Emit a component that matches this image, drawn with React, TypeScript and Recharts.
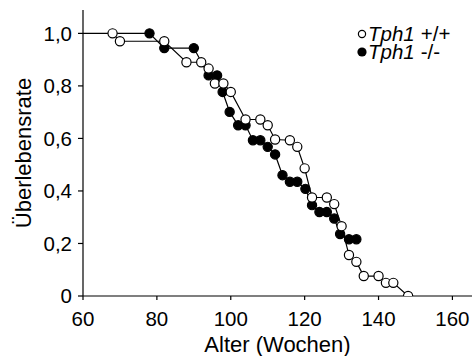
import React from "react";
import { LineChart, Line, XAxis, YAxis, Legend } from "recharts";

const wtAge = [68, 70, 82, 88, 92, 94, 95.7, 98, 100, 104, 108, 110, 112, 116, 118, 120, 122, 126, 128, 130, 132, 134, 136, 140, 142, 144, 148];
const wtSurv = [1.0, 0.97, 0.97, 0.89, 0.89, 0.866, 0.809, 0.809, 0.777, 0.672, 0.672, 0.65, 0.596, 0.593, 0.568, 0.486, 0.375, 0.375, 0.35, 0.266, 0.156, 0.13, 0.076, 0.076, 0.05, 0.05, 0];

const koAge = [60, 78, 82, 90, 94, 96.3, 97.8, 99.7, 102, 104, 106, 108, 110, 112, 114, 116, 118, 120.2, 122, 124, 126, 128, 129.6, 132, 134];
const koSurv = [1.0, 1.0, 0.944, 0.944, 0.84, 0.84, 0.777, 0.701, 0.65, 0.65, 0.593, 0.593, 0.568, 0.539, 0.46, 0.435, 0.435, 0.408, 0.346, 0.32, 0.32, 0.295, 0.236, 0.216, 0.216];

const xTicks = [60, 80, 100, 120, 140, 160];
const yTicks = [0, 0.2, 0.4, 0.6, 0.8, 1.0];
const yTickLabels = ["0", "0,2", "0,4", "0,6", "0,8", "1,0"];

const wtData = wtAge.map((a, i) => ({ age: a, s: wtSurv[i] }));
const koData = koAge.map((a, i) => ({ age: a, s: koSurv[i] }));

const FONT = "'Liberation Sans', Arial, Helvetica, sans-serif";

const OpenDot = (props: any) => {
  const { cx, cy, index } = props;
  return <circle key={"o" + index} cx={cx} cy={cy} r={4.6} fill="#fff" stroke="#000" strokeWidth={1.2} />;
};

const FilledDot = (props: any) => {
  const { cx, cy, index } = props;
  if (index === 0) return <g key={"f" + index} />;
  return <circle key={"f" + index} cx={cx} cy={cy} r={4.6} fill="#000" stroke="#000" strokeWidth={1.2} />;
};

const LegendContent = () => (
  <div style={{ fontFamily: FONT, fontSize: 20.5, color: "#000", lineHeight: "18px", whiteSpace: "nowrap" }}>
    <div style={{ display: "flex", alignItems: "center", height: 18 }}>
      <svg width={12} height={12}>
        <circle cx={6} cy={6} r={3.6} fill="#fff" stroke="#000" strokeWidth={1.2} />
      </svg>
      <i>Tph1</i>
      <span style={{ marginLeft: 6 }}>+/+</span>
    </div>
    <div style={{ display: "flex", alignItems: "center", height: 18 }}>
      <svg width={12} height={12}>
        <circle cx={6} cy={6} r={4.6} fill="#000" />
      </svg>
      <i>Tph1</i>
      <span style={{ marginLeft: 6 }}>-/-</span>
    </div>
  </div>
);

const YLabel = (props: any) => {
  const vb = props.viewBox || {};
  const cy = vb.y + vb.height / 2;
  return (
    <text x={31} y={cy} transform={`rotate(-90, 31, ${cy})`} textAnchor="middle" fontFamily={FONT} fontSize={22} fill="#000">
      Überlebensrate
    </text>
  );
};

export default function App() {
  return (
    <div style={{ position: "absolute", left: 0, top: 0, background: "#fff" }}>
      <LineChart width={472} height={356} margin={{ top: 10, right: 0, left: 0, bottom: 0 }}>
        <XAxis
          type="number"
          dataKey="age"
          domain={[60, 165.3]}
          ticks={xTicks}
          allowDataOverflow
          height={60}
          tickSize={4}
          tickMargin={11}
          stroke="#000"
          strokeWidth={1.2}
          tick={{ fill: "#000", fontSize: 20.5, fontFamily: FONT }}
          label={{ value: "Alter (Wochen)", position: "insideBottom", offset: 4, fill: "#000", fontSize: 22, fontFamily: FONT }}
        />
        <YAxis
          type="number"
          dataKey="s"
          domain={[0, 1.089]}
          ticks={yTicks}
          allowDataOverflow
          width={83}
          tickSize={5}
          tickMargin={6}
          stroke="#000"
          strokeWidth={1.2}
          tickFormatter={(v: number) => yTickLabels[yTicks.indexOf(v)] ?? String(v)}
          tick={{ fill: "#000", fontSize: 20.5, fontFamily: FONT }}
          label={<YLabel />}
        />
        <Legend
          layout="vertical"
          verticalAlign="middle"
          align="center"
          content={<LegendContent />}
          wrapperStyle={{ position: "absolute", left: 356, top: 25, width: 116 }}
        />
        <Line
          data={koData}
          dataKey="s"
          type="linear"
          stroke="#000"
          strokeWidth={1.2}
          dot={<FilledDot />}
          isAnimationActive={false}
          legendType="none"
        />
        <Line
          data={wtData}
          dataKey="s"
          type="linear"
          stroke="#000"
          strokeWidth={1.2}
          dot={<OpenDot />}
          isAnimationActive={false}
          legendType="none"
        />
      </LineChart>
    </div>
  );
}
